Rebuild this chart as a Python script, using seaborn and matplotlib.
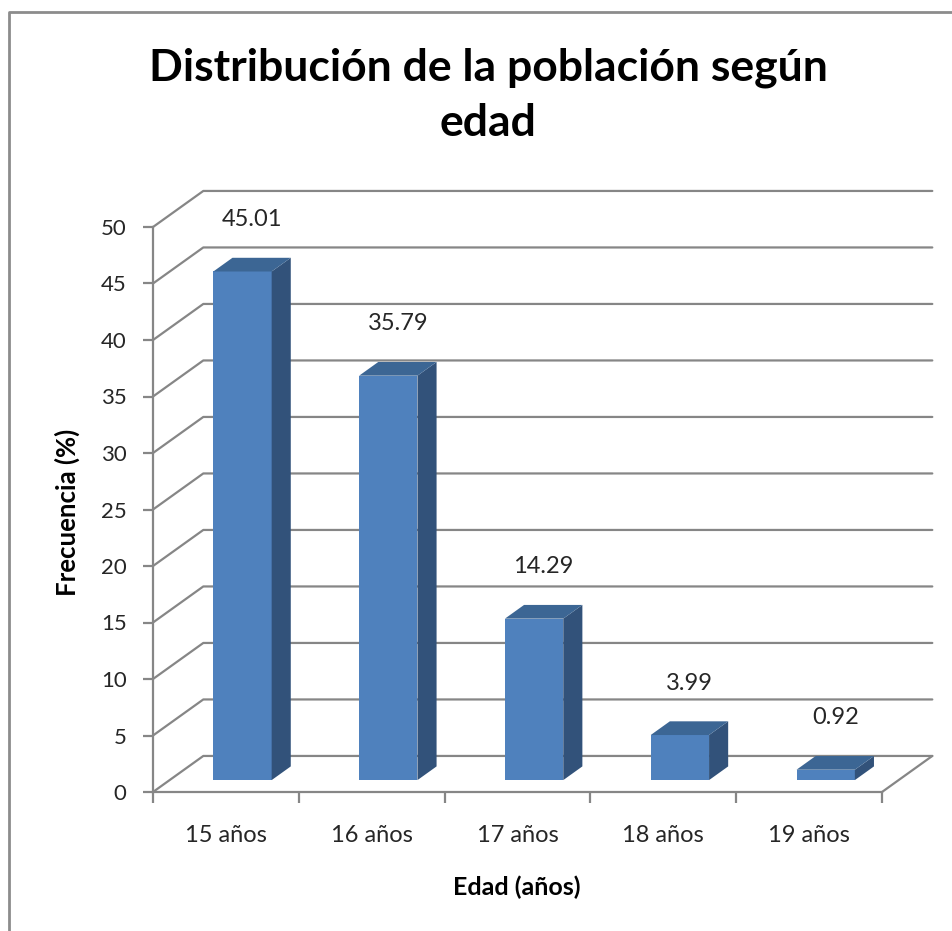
"""
3D-style bar chart: distribucion de la poblacion segun edad.
"""

import numpy as np
import pandas as pd
import matplotlib
matplotlib.use("Agg")
import matplotlib.pyplot as plt
from matplotlib.patches import Polygon, Rectangle
import seaborn as sns

# data
categorias = ["15 años", "16 años", "17 años", "18 años", "19 años"]
frecuencia = [45.01, 35.79, 14.29, 3.99, 0.92]
y_ticks    = [0, 5, 10, 15, 20, 25, 30, 35, 40, 45, 50]

titulo  = "Distribución de la población según\nedad"
x_label = "Edad (años)"
y_label = "Frecuencia (%)"

# look
FRONT = "#4F81BD"
SIDE  = "#32527A"
TOP   = "#3C6694"
GRID  = "#868686"
TXT   = "#262626"

# depth vector of the floor, in data units (categories, %)
DX, DY = 0.345, 3.19
D1, D2 = 0.33, 0.71   # bar front / back depth

sns.set_style("white")
plt.rcParams["font.family"] = ["Lato", "DejaVu Sans"]

fig = plt.figure(figsize=(9.53, 9.31), dpi=100)
ax = fig.add_axes([153 / 953, 1 - 792 / 931, 729 / 953, 565 / 931])

df = pd.DataFrame({"edad": categorias, "frec": frecuencia})
sns.barplot(data=df, x="edad", y="frec", color=FRONT, saturation=1,
            width=0.4, linewidth=0, ax=ax, zorder=3)

ax.set_xlim(-0.5, len(categorias) - 0.5)
ax.set_ylim(0, 50)

# back wall, left wall and floor lines
x0, x1 = -0.5, len(categorias) - 0.5
for t in y_ticks:
    ax.plot([x0, x0 + DX, x1 + DX], [t, t + DY, t + DY], color=GRID,
            lw=1.6, clip_on=False, zorder=1)
ax.plot([x1, x1 + DX], [0, DY], color=GRID, lw=1.6, clip_on=False, zorder=1)

# extrude the seaborn bars
for p in ax.patches:
    if not isinstance(p, Rectangle):
        continue
    bx, w, h = p.get_x(), p.get_width(), p.get_height()
    p.set_x(bx + D1 * DX)
    p.set_y(D1 * DY)
    fx = bx + D1 * DX
    side = [(fx + w, D1 * DY), (bx + w + D2 * DX, D2 * DY),
            (bx + w + D2 * DX, h + D2 * DY), (fx + w, h + D1 * DY)]
    top = [(fx, h + D1 * DY), (fx + w, h + D1 * DY),
           (bx + w + D2 * DX, h + D2 * DY), (bx + D2 * DX, h + D2 * DY)]
    ax.add_patch(Polygon(side, closed=True, fc=SIDE, ec="none", zorder=3, clip_on=False))
    ax.add_patch(Polygon(top, closed=True, fc=TOP, ec="none", zorder=3, clip_on=False))

# value labels
mid = (D1 + D2) / 2
for i, v in enumerate(frecuencia):
    ax.text(i + mid * DX, v + D1 * DY + 4.6, f"{v:.2f}", ha="center",
            va="center", fontsize=17, color=TXT, clip_on=False)

sns.despine(ax=ax, top=True, right=True)
for s in ["left", "bottom"]:
    ax.spines[s].set_color(GRID)
    ax.spines[s].set_linewidth(1.6)

ax.set_yticks(y_ticks)
ax.set_xticks(range(len(categorias)))
ax.set_xticklabels(categorias)
ax.set_xticks(np.arange(len(categorias) + 1) - 0.5, minor=True)
ax.tick_params(axis="y", which="major", length=7, width=1.6, color=GRID,
               left=True, labelsize=16, labelcolor=TXT, pad=12)
ax.tick_params(axis="x", which="major", length=0, labelsize=17,
               labelcolor=TXT, pad=24)
ax.tick_params(axis="x", which="minor", length=8, width=1.6, color=GRID,
               bottom=True)
ax.set_xlabel("")
ax.set_ylabel("")

fig.text(67 / 953, 1 - 512 / 931, y_label, rotation=90, ha="center",
         va="center", fontsize=18.5, fontweight="bold", color="black")
fig.text(517 / 953, 1 - 887 / 931, x_label, ha="center", va="center",
         fontsize=18, fontweight="bold", color="black")
fig.text(488 / 953, 1 - 95 / 931, titulo, ha="center", va="center",
         fontsize=32, fontweight="bold", color="black", linespacing=1.45)

# chart area frame
fig.add_artist(plt.Line2D([9 / 953, 9 / 953, 1], [0, 1 - 12 / 931, 1 - 12 / 931],
                          color="#8C8C8C", lw=2))

fig.savefig("out.png", dpi=100)
plt.close(fig)
